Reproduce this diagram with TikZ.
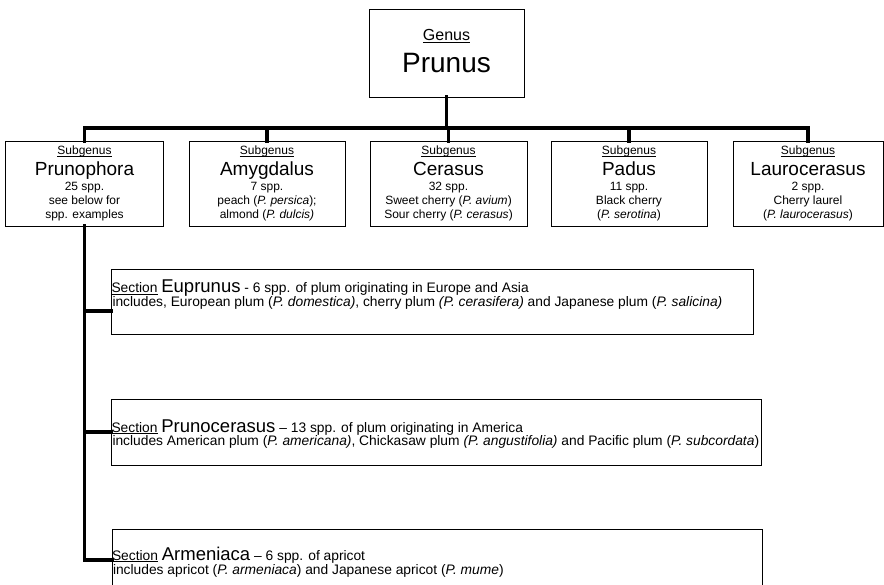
\documentclass[tikz,border=0pt]{standalone}
\usepackage{fontspec}
\setmainfont{Liberation Sans}
\newcommand\fs[1]{\fontsize{#1}{#1}\selectfont}
\newsavebox\ulbox
\newcommand\ulw[1]{\sbox\ulbox{#1}\rlap{\rule[-1.7pt]{\wd\ulbox}{0.6pt}}\usebox\ulbox}
\tikzset{
  x=1pt, y=-1pt,
  boxnode/.style={draw, line width=0.9pt, inner sep=0pt, outer sep=0pt},
  lbl/.style={anchor=base, inner sep=0pt, outer sep=0pt},
  lblw/.style={anchor=base west, inner sep=0pt, outer sep=0pt},
  conn/.style={line width=3.2pt, line join=miter, line cap=rect},
}
\newcommand\subgenusbox[8]{%
  \node[boxnode, minimum width=#3, minimum height=85] (#1) at (#2,183.5) {};
  \node[lbl, font=\fs{12}] (#1-a) at (#2,155) {\ulw{Subgenus}};
  \node[lbl, font=\fs{19}] (#1-b) at (#2,175.5) {#4};
  \node[lbl, font=\fs{12}] (#1-c) at (#2,190.5) {#5};
  \node[lbl, font=\fs{12}] (#1-d) at (#2,204.5) {#6};
  \node[lbl, font=\fs{12}] (#1-e) at (#2,218.5) {#7};
}
\begin{document}
\begin{tikzpicture}
\useasboundingbox (0,0) rectangle (884,585);
\clip (0,0) rectangle (884,585);
\fill[white] (0,0) rectangle (884,585);

% Genus
\node[boxnode, minimum width=155, minimum height=88] (genus) at (446.5,53) {};
\node[lbl, font=\fs{16}] (genus-a) at (446.5,41) {\ulw{Genus}};
\node[lbl, font=\fs{28}] (genus-b) at (446.5,73) {Prunus};

% Subgenera
\subgenusbox{pruno}{84.5}{158}{Prunophora}{25 spp.}{see below for}{spp. examples}{}
\subgenusbox{amyg}{267}{156}{Amygdalus}{7 spp.}{peach (\textit{P. persica});}{almond (\textit{P. dulcis)}}{}
\subgenusbox{ceras}{448.5}{157}{Cerasus}{32 spp.}{Sweet cherry (\textit{P. avium})}{Sour cherry (\textit{P. cerasus})}{}
\subgenusbox{padus}{629}{156}{Padus}{11 spp.}{Black cherry}{(\textit{P. serotina})}{}
\subgenusbox{lauro}{808}{150}{Laurocerasus}{2 spp.}{Cherry laurel}{(\textit{P. laurocerasus})}{}

% connector bar
\coordinate (bar) at (0,128);
\draw[conn] (pruno.north) -- (pruno.north |- bar) -- (lauro.north |- bar) -- (lauro.north);
\draw[conn] (genus.south) -- (genus.south |- bar);
\draw[conn] (amyg.north) -- (amyg.north |- bar);
\draw[conn] (ceras.north) -- (ceras.north |- bar);
\draw[conn] (padus.north) -- (padus.north |- bar);

% Sections
\node[boxnode, minimum width=642, minimum height=65] (eupr) at (432,301.5) {};
\node[boxnode, minimum width=650, minimum height=66] (prce) at (436,432) {};
\node[boxnode, minimum width=650, minimum height=71] (armen) at (437,564.5) {};

\node[lblw, font=\fs{13.8}] (eupr-a) at (111.5,292.5) {\ulw{Section} {\fs{18.5}Euprunus} - 6 spp. of plum originating in Europe and Asia};
\node[lblw, font=\fs{13.8}] (eupr-b) at (112.5,307) {includes, European plum (\textit{P. domestica)}, cherry plum \textit{(P. cerasifera)} and Japanese plum (\textit{P. salicina)}};

\node[lblw, font=\fs{13.8}] (prce-a) at (111.5,432) {\ulw{Section} {\fs{18.5}Prunocerasus} -- 13 spp. of plum originating in America};
\node[lblw, font=\fs{13.8}] (prce-b) at (112.5,446) {includes American plum (\textit{P. americana)}, Chickasaw plum \textit{(P. angustifolia)} and Pacific plum (\textit{P. subcordata})};

\node[lblw, font=\fs{13.8}] (armen-a) at (112,560) {\ulw{Section} {\fs{18.5}Armeniaca} -- 6 spp. of apricot};
\node[lblw, font=\fs{13.8}] (armen-b) at (113,574) {includes apricot (\textit{P. armeniaca}) and Japanese apricot (\textit{P. mume})};

% trunk and branches
\coordinate (c1) at (0,311);
\coordinate (c2) at (0,432);
\coordinate (c3) at (0,560);
\draw[conn] (pruno.south) -- (pruno.south |- c3) -- (armen.west |- c3);
\draw[conn] (pruno.south |- c1) -- (eupr.west |- c1);
\draw[conn] (pruno.south |- c2) -- (prce.west |- c2);
\end{tikzpicture}
\end{document}
